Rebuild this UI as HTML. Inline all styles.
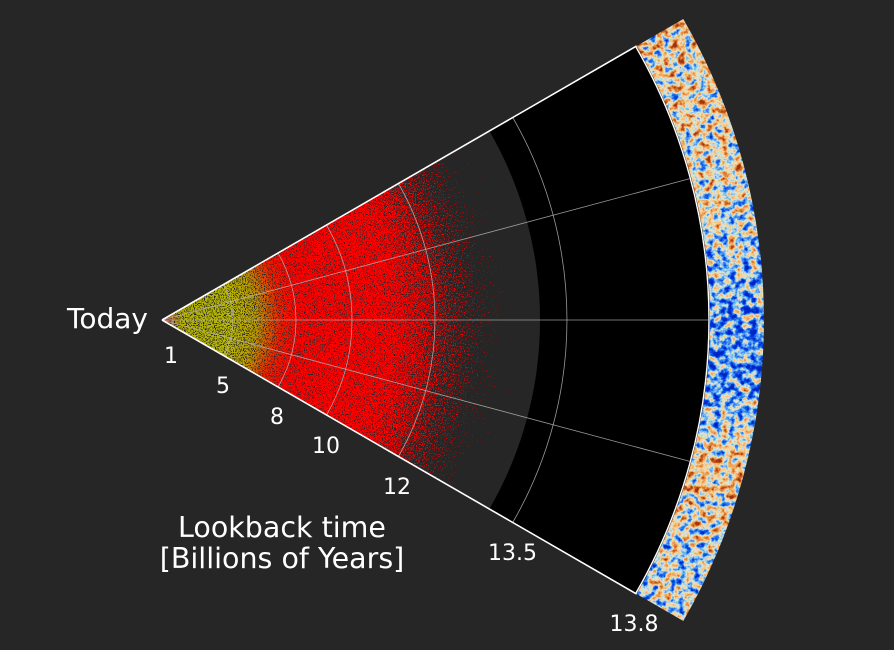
<!DOCTYPE html>
<html>
<head>
<meta charset="utf-8">
<style>
html,body{margin:0;padding:0;background:#262626;}
svg{display:block;}
text{font-family:"DejaVu Sans","Liberation Sans",sans-serif;fill:#ffffff;}
</style>
</head>
<body>
<svg width="894" height="650" viewBox="0 0 894 650" xmlns="http://www.w3.org/2000/svg">
<defs>
  <!-- density gradient for scatter -->
  <radialGradient id="dens" gradientUnits="userSpaceOnUse" cx="162" cy="320" r="380">
    <stop offset="0" stop-color="rgb(140,140,140)"/>
    <stop offset="0.026" stop-color="rgb(150,150,150)"/>
    <stop offset="0.237" stop-color="rgb(150,150,150)"/>
    <stop offset="0.342" stop-color="rgb(160,160,160)"/>
    <stop offset="0.60" stop-color="rgb(160,160,160)"/>
    <stop offset="0.68" stop-color="rgb(140,140,140)"/>
    <stop offset="0.74" stop-color="rgb(115,115,115)"/>
    <stop offset="0.79" stop-color="rgb(92,92,92)"/>
    <stop offset="0.842" stop-color="rgb(66,66,66)"/>
    <stop offset="0.908" stop-color="rgb(40,40,40)"/>
    <stop offset="1" stop-color="rgb(15,15,15)"/>
  </radialGradient>
  <radialGradient id="col" gradientUnits="userSpaceOnUse" cx="162" cy="320" r="380">
    <stop offset="0" stop-color="#ff3020"/>
    <stop offset="0.02" stop-color="#c05010"/>
    <stop offset="0.05" stop-color="#b0ac00"/>
    <stop offset="0.18" stop-color="#b8b800"/>
    <stop offset="0.245" stop-color="#b89c00"/>
    <stop offset="0.31" stop-color="#e82000"/>
    <stop offset="0.36" stop-color="#ff0000"/>
    <stop offset="1" stop-color="#ff0000"/>
  </radialGradient>
  <filter id="thr" filterUnits="userSpaceOnUse" x="0" y="0" width="894" height="650" color-interpolation-filters="sRGB">
    <feTurbulence type="fractalNoise" baseFrequency="0.9" numOctaves="1" seed="5" result="t"/>
    <feColorMatrix in="t" type="matrix" values="1 0 0 0 0  1 0 0 0 0  1 0 0 0 0  0 0 0 0 1" result="n"/>
    <feComposite in="SourceGraphic" in2="n" operator="arithmetic" k1="0" k2="2" k3="2.5" k4="-2.25" result="v"/>
    <feComponentTransfer in="v">
      <feFuncR type="linear" slope="40" intercept="0"/>
      <feFuncG type="linear" slope="40" intercept="0"/>
      <feFuncB type="linear" slope="40" intercept="0"/>
      <feFuncA type="linear" slope="0" intercept="1"/>
    </feComponentTransfer>
  </filter>
  <mask id="m" maskUnits="userSpaceOnUse" x="0" y="0" width="894" height="650">
    <rect x="0" y="0" width="894" height="650" fill="url(#dens)" filter="url(#thr)"/>
  </mask>

  <!-- CMB -->
  <linearGradient id="bias" gradientUnits="userSpaceOnUse" x1="0" y1="19" x2="0" y2="621">
    <stop offset="0" stop-color="rgb(145,145,145)"/>
    <stop offset="0.135" stop-color="rgb(145,145,145)"/>
    <stop offset="0.30" stop-color="rgb(132,132,132)"/>
    <stop offset="0.40" stop-color="rgb(108,108,108)"/>
    <stop offset="0.465" stop-color="rgb(80,80,80)"/>
    <stop offset="0.58" stop-color="rgb(74,74,74)"/>
    <stop offset="0.664" stop-color="rgb(102,102,102)"/>
    <stop offset="0.739" stop-color="rgb(160,160,160)"/>
    <stop offset="0.814" stop-color="rgb(142,142,142)"/>
    <stop offset="0.90" stop-color="rgb(115,115,115)"/>
    <stop offset="1" stop-color="rgb(128,128,128)"/>
  </linearGradient>
  <filter id="cmb" filterUnits="userSpaceOnUse" x="600" y="0" width="294" height="650" color-interpolation-filters="sRGB">
    <feTurbulence type="fractalNoise" baseFrequency="0.14" numOctaves="4" seed="11" result="t"/>
    <feColorMatrix in="t" type="matrix" values="1 0 0 0 0  1 0 0 0 0  1 0 0 0 0  0 0 0 0 1" result="n"/>
    <feComposite in="SourceGraphic" in2="n" operator="arithmetic" k1="0" k2="1" k3="1.5" k4="-0.75" result="v"/>
    <feComponentTransfer in="v">
      <feFuncR type="table" tableValues="0.0 0.02 0.20 0.50 0.88 0.97 0.94 0.82 0.62"/>
      <feFuncG type="table" tableValues="0.14 0.28 0.50 0.76 0.91 0.80 0.62 0.40 0.20"/>
      <feFuncB type="table" tableValues="0.78 0.89 0.94 0.95 0.84 0.55 0.32 0.15 0.06"/>
      <feFuncA type="linear" slope="0" intercept="1"/>
    </feComponentTransfer>
  </filter>
  <clipPath id="cmbclip">
    <path d="M 636.6 46 L 683.3 19 A 602 602 0 0 1 683.3 621 L 636.6 594 A 548 548 0 0 0 636.6 46 Z"/>
  </clipPath>
</defs>

<rect x="0" y="0" width="894" height="650" fill="#262626"/>

<!-- black annulus -->
<path d="M 489.4 131 L 636.6 46 A 548 548 0 0 1 636.6 594 L 489.4 509 A 378 378 0 0 0 489.4 131 Z" fill="#000000"/>

<!-- scatter -->
<path d="M 162 320 L 491 130 A 380 380 0 0 1 491 510 Z" fill="url(#col)" mask="url(#m)"/>

<!-- CMB band -->
<g clip-path="url(#cmbclip)">
  <rect x="600" y="0" width="294" height="650" fill="url(#bias)" filter="url(#cmb)"/>
</g>

<!-- grid -->
<g fill="none" stroke="#b4b4b4" stroke-width="0.8" stroke-opacity="0.85">
  <path d="M 162 320 L 708 320"/>
  <path d="M 162 320 L 689.4 178.7"/>
  <path d="M 162 320 L 689.4 461.3"/>
  <path d="M 171.5 314.5 A 11 11 0 0 1 171.5 325.5"/>
  <path d="M 223.5 284.5 A 71 71 0 0 1 223.5 355.5"/>
  <path d="M 278.0 253 A 134 134 0 0 1 278.0 387"/>
  <path d="M 326.5 225 A 190 190 0 0 1 326.5 415"/>
  <path d="M 398.4 183.5 A 273 273 0 0 1 398.4 456.5"/>
  <path d="M 512.7 117.5 A 405 405 0 0 1 512.7 522.5"/>
</g>

<!-- white edges -->
<g fill="none" stroke="#ffffff" stroke-width="1.6">
  <path d="M 162 320 L 636.6 46"/>
  <path d="M 162 320 L 636.6 594"/>
  <path d="M 635.7 46.5 A 547 547 0 0 1 635.7 593.5" stroke-width="1.4"/>
</g>

<!-- labels -->
<text x="148" y="328" font-size="28" text-anchor="end">Today</text>
<g font-size="22" text-anchor="middle">
  <text x="171" y="363">1</text>
  <text x="223" y="393">5</text>
  <text x="277" y="424">8</text>
  <text x="326" y="453">10</text>
  <text x="397" y="494">12</text>
  <text x="512.5" y="560">13.5</text>
  <text x="634" y="631">13.8</text>
</g>
<g font-size="28.5" text-anchor="middle">
  <text x="282" y="537">Lookback time</text>
  <text x="282" y="568">[Billions of Years]</text>
</g>
</svg>
</body>
</html>
